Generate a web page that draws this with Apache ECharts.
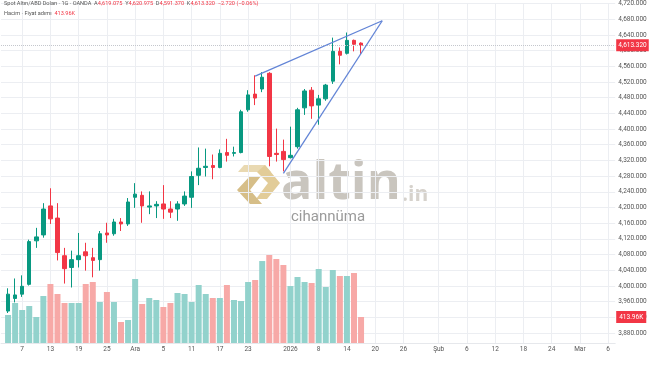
<!DOCTYPE html>
<html><head><meta charset="utf-8">
<script src="https://cdn.jsdelivr.net/npm/echarts@6/dist/echarts.min.js"></script>
<style>html,body{margin:0;padding:0;background:#fff}#c{width:654px;height:366px}</style>
</head><body><div id="c"></div>
<script>
// ---- data ----
const dates = ["2025-11-05","2025-11-06","2025-11-07","2025-11-10","2025-11-11","2025-11-12","2025-11-13","2025-11-14","2025-11-17","2025-11-18","2025-11-19","2025-11-20","2025-11-21","2025-11-24","2025-11-25","2025-11-26","2025-11-27","2025-11-28","2025-12-01","2025-12-02","2025-12-03","2025-12-04","2025-12-05","2025-12-08","2025-12-09","2025-12-10","2025-12-11","2025-12-12","2025-12-15","2025-12-16","2025-12-17","2025-12-18","2025-12-19","2025-12-22","2025-12-23","2025-12-24","2025-12-26","2025-12-29","2025-12-30","2025-12-31","2026-01-02","2026-01-05","2026-01-06","2026-01-07","2026-01-08","2026-01-09","2026-01-12","2026-01-13","2026-01-14","2026-01-15","2026-01-16"];
const opens  = [3936,3968,3979,4004,4115,4130,4204,4173,4077,4047,4067,4087,4072,4067,4135,4133,4163,4158,4226,4231,4201,4204,4209,4196,4196,4209,4226,4282,4302,4307,4302,4340,4338,4340,4449,4489,4502,4542,4338,4343,4327,4355,4454,4499,4461,4477,4522,4598,4593,4626,4619.075];
const closes = [3979,3977,3999,4113,4125,4196,4171,4085,4044,4067,4077,4077,4065,4133,4130,4163,4158,4214,4234,4204,4204,4208,4196,4188,4209,4229,4279,4300,4305,4302,4338,4333,4340,4444,4487,4479,4532,4330,4335,4322,4333,4449,4497,4459,4477,4512,4598,4588,4626,4616.04,4613.32];
const lows   = [3931,3958,3972,4001,4097,4123,4158,4065,4006,3996,4047,4039,4022,4039,4110,4128,4140,4153,4199,4161,4183,4173,4171,4173,4166,4204,4199,4257,4279,4272,4300,4317,4330,4338,4444,4461,4494,4305,4317,4292,4325,4350,4436,4426,4411,4472,4515,4565,4590,4598,4591.37];
const highs  = [3994,4019,4027,4118,4148,4211,4249,4211,4097,4090,4135,4110,4097,4140,4161,4171,4173,4224,4262,4241,4241,4216,4257,4216,4216,4241,4292,4353,4350,4335,4348,4375,4355,4449,4499,4537,4545,4545,4401,4373,4406,4454,4502,4507,4487,4515,4633,4608,4646,4628,4620.975];
const volumes = [446,637,525,589,414,748,939,780,637,637,637,939,971,653,812,653,334,366,1019,621,716,685,573,637,796,780,653,923,780,716,716,923,685,669,971,1003,1305,1401,1337,1242,907,1051,971,955,1178,892,1162,1067,1067,1114,413.96]; // thousands
const tickDates  = ["2025-11-07","2025-11-13","2025-11-19","2025-11-25","2025-12-01","2025-12-05","2025-12-11","2025-12-17","2025-12-23","2026-01-02","2026-01-08","2026-01-14","2026-01-20","2026-01-26","2026-02-02","2026-02-06","2026-02-12","2026-02-18","2026-02-24","2026-03-02","2026-03-06"];
const tickLabels = ["7","13","19","25","Ara","5","11","17","23","2026","8","14","20","26","Şub","6","12","18","24","Mar","6"];
const upperTrend = [["2025-12-24",4535],["2026-01-21",4676]];
const lowerTrend = [["2025-12-31",4287],["2026-01-21",4676]];

// ---- axis categories (trading weekdays) ----
const holidays = new Set(["2025-12-25","2026-01-01"]);
const cats = [];
for (let d = new Date(Date.UTC(2025,10,4)); d <= new Date(Date.UTC(2026,2,9)); d.setUTCDate(d.getUTCDate()+1)) {
  const wd = d.getUTCDay();
  const s = d.toISOString().slice(0,10);
  if (wd !== 0 && wd !== 6 && !holidays.has(s)) cats.push(s);
}
const labelMap = {};
tickDates.forEach((d,i)=>labelMap[d]=tickLabels[i]);
const isTick = (idx, val) => labelMap[val] !== undefined;

const UP='#089981', DOWN='#f23645', UPV='#92d2cc', DOWNV='#f7a9a7';
const fmt3 = v => v.toLocaleString('en-US',{minimumFractionDigits:3,maximumFractionDigits:3});
const n = dates.length;
const lastO=opens[n-1], lastH=highs[n-1], lastL=lows[n-1], lastC=closes[n-1], prevC=closes[n-2];
const chg = lastC-prevC, pct = chg/prevC*100;
const sgn = x => (x<0?'−':'+') + Math.abs(x).toFixed(3);
const sgnP = x => (x<0?'−':'+') + Math.abs(x).toFixed(2) + '%';
const lastVol = volumes[n-1];
const volTxt = lastVol.toFixed(2)+'K';

const candleData = dates.map((d,i)=>[d,opens[i],closes[i],lows[i],highs[i]]);
const volData = dates.map((d,i)=>({value:[d,volumes[i]], itemStyle:{color: closes[i]>=opens[i]?UPV:DOWNV}}));

const FONT='Roboto';
const gridCol='#eceef2';
const chart = echarts.init(document.getElementById('c'), null, {renderer:'canvas'});
chart.setOption({
  animation:false,
  backgroundColor:'#ffffff',
  grid:[
    {left:1, right:38.8, top:0.8, bottom:33},
    {left:1, right:38.8, top:143, bottom:23}
  ],
  xAxis:[
    {type:'category', gridIndex:0, data:cats, boundaryGap:false,
     axisLine:{show:false}, axisTick:{show:false}, axisLabel:{show:false},
     splitLine:{show:true, interval:isTick, lineStyle:{color:gridCol, width:1}}},
    {type:'category', gridIndex:1, data:cats, boundaryGap:false,
     axisLine:{show:true, lineStyle:{color:'#e6e8ec'}}, axisTick:{show:false},
     axisLabel:{show:true, interval:isTick, formatter:v=>labelMap[v]||'', fontSize:6.5, color:'#555', fontFamily:FONT, margin:3},
     splitLine:{show:true, interval:isTick, lineStyle:{color:gridCol, width:1}}}
  ],
  yAxis:[
    {type:'value', gridIndex:0, position:'right', min:3880, max:4720, interval:40, scale:true,
     axisLine:{show:false}, axisTick:{show:false},
     axisLabel:{fontSize:6.5, color:'#555', fontFamily:FONT, margin:3, formatter:v=>fmt3(v)},
     splitLine:{show:true, lineStyle:{color:gridCol, width:1}}},
    {type:'value', gridIndex:1, min:0, max:3184, show:false, splitLine:{show:false}}
  ],
  series:[
    {type:'bar', xAxisIndex:1, yAxisIndex:1, data:volData, barWidth:6, z:1,
     markLine:{silent:true, symbol:['none','none'], animation:false,
       data:[{yAxis:lastVol, lineStyle:{color:'transparent', width:0},
        label:{show:true, position:'end', formatter:volTxt, backgroundColor:DOWN, color:'#fff', fontSize:6.5, fontFamily:FONT, padding:[3,3,2,3], distance:1}}]}},
    {type:'candlestick', xAxisIndex:0, yAxisIndex:0, data:candleData, encode:{x:0, y:[1,2,3,4]}, barWidth:4, z:3,
     itemStyle:{color:UP, color0:DOWN, borderColor:UP, borderColor0:DOWN, borderWidth:1},
     markLine:{silent:true, symbol:['none','none'], animation:false, z:4,
       data:[
         {yAxis:lastC, lineStyle:{color:'#c4c7cd', type:'dotted', width:1},
          label:{show:true, position:'end', formatter:fmt3(lastC), backgroundColor:DOWN, color:'#fff', fontSize:6.5, fontFamily:FONT, padding:[3,2,2,2], distance:1}},
         [{coord:upperTrend[0], lineStyle:{color:'#6284d6', width:1.3, type:'solid'}, label:{show:false}},{coord:upperTrend[1]}],
         [{coord:lowerTrend[0], lineStyle:{color:'#6284d6', width:1.3, type:'solid'}, label:{show:false}},{coord:lowerTrend[1]}]
       ]}}
  ],
  graphic:[
    {type:'polygon', z:0, shape:{points:[[244,165],[265,165],[271,172],[238,172]]}, style:{fill:'#e9d9b2'}},
    {type:'polygon', z:0, shape:{points:[[265,165],[280,183],[267,199],[256,199],[268,183],[257,172]]}, style:{fill:'#e2cc98'}},
    {type:'polygon', z:0, shape:{points:[[250,176],[261,176],[250,190],[262,204],[250,204],[237,190]]}, style:{fill:'#d6be88'}},
    {type:'text', z:0, x:281, y:184, style:{text:'altin', font:'bold 52px "Open Sans"', fill:'#c9c5be', align:'left', verticalAlign:'middle'}},
    {type:'text', z:0, x:402, y:195, style:{text:'.in', font:'bold 21px "Open Sans"', fill:'#d6d2cc', align:'left', verticalAlign:'middle'}},
    {type:'text', z:0, x:328, y:217, style:{text:'cihannüma', font:'15px Roboto', fill:'#9a9a9a', align:'center', verticalAlign:'middle'}},
    {type:'text', z:10, left:4, top:1, style:{
      text:'{d|Spot Altın/ABD Doları · 1G · OANDA  A}{r|'+fmt3(lastO)+'}{d|  Y}{r|'+fmt3(lastH)+'}{d|  D}{r|'+fmt3(lastL)+'}{d|  K}{r|'+fmt3(lastC)+'  '+sgn(chg)+' ('+sgnP(pct)+')}',
      rich:{d:{fontSize:5.6, fill:'#555', fontFamily:FONT}, r:{fontSize:5.6, fill:DOWN, fontFamily:FONT}}}},
    {type:'text', z:10, left:4, top:11, style:{
      text:'{d|Hacim · Fiyat adımı  }{r|'+volTxt+'}',
      rich:{d:{fontSize:5.6, fill:'#555', fontFamily:FONT}, r:{fontSize:5.6, fill:DOWN, fontFamily:FONT}}}}
  ]
});
</script></body></html>
